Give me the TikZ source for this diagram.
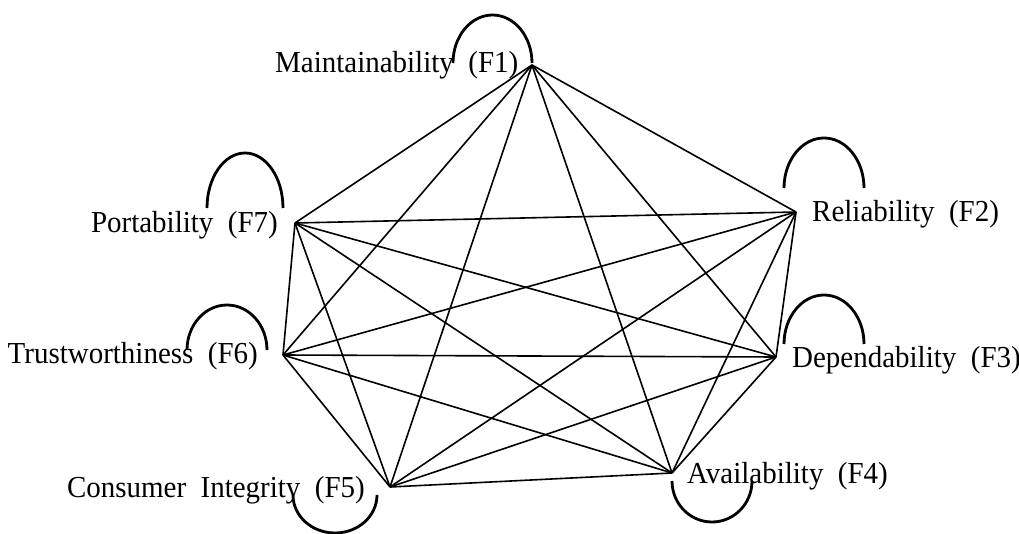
\documentclass[tikz,border=0pt]{standalone}
\usepackage{fontspec}
\setmainfont{Liberation Serif}
\newcommand{\wgap}{\hspace{0.5em}}
\newcommand{\labtext}[1]{\scalebox{0.95}[1]{#1}}
\begin{document}
\begin{tikzpicture}[x=1pt,y=-1pt,
  lab/.style={inner sep=0pt, font=\fontsize{30.5}{36}\selectfont},
  edge/.style={line width=1.6pt},
  looparc/.style={line width=2.8pt}]
\useasboundingbox (0,0) rectangle (1019,534);
% vertices
\coordinate (v1) at (532,65);
\coordinate (v2) at (796,212);
\coordinate (v3) at (776,357);
\coordinate (v4) at (672,473);
\coordinate (v5) at (390,487);
\coordinate (v6) at (283,355);
\coordinate (v7) at (295,223);
% complete graph
\foreach \i/\j in {1/2,1/3,1/4,1/5,1/6,1/7,2/3,2/4,2/5,2/6,2/7,3/4,3/5,3/6,3/7,4/5,4/6,4/7,5/6,5/7,6/7}
  \draw[edge] (v\i) -- (v\j);
% labels
\node[lab, anchor=base west] (l1) at (275,73) {\labtext{Maintainability\wgap(F1)}};
\node[lab, anchor=base west] (l2) at (812,222) {\labtext{Reliability\wgap(F2)}};
\node[lab, anchor=base west] (l3) at (792,367) {\labtext{Dependability\wgap(F3)}};
\node[lab, anchor=base west] (l4) at (687,483) {\labtext{Availability\wgap(F4)}};
\node[lab, anchor=base east] (l5) at (365,497) {\labtext{Consumer\wgap Integrity\wgap(F5)}};
\node[lab, anchor=base east] (l6) at (258,363) {\labtext{Trustworthiness\wgap(F6)}};
\node[lab, anchor=base east] (l7) at (278,233) {\labtext{Portability\wgap(F7)}};
% self loops
\draw[looparc] (453,63) arc[start angle=180, end angle=0, x radius=39.5pt, y radius=48pt];
\draw[looparc] (784,188) arc[start angle=180, end angle=0, x radius=40pt, y radius=50pt];
\draw[looparc] (784,344) arc[start angle=180, end angle=0, x radius=40pt, y radius=49pt];
\draw[looparc] (672,481) arc[start angle=180, end angle=360, x radius=40pt, y radius=41pt];
\draw[looparc] (293,495) arc[start angle=180, end angle=360, x radius=42pt, y radius=38pt];
\draw[looparc] (187,350) arc[start angle=180, end angle=0, x radius=40pt, y radius=45pt];
\draw[looparc] (207,208) arc[start angle=180, end angle=0, x radius=38pt, y radius=55pt];
\end{tikzpicture}
\end{document}
